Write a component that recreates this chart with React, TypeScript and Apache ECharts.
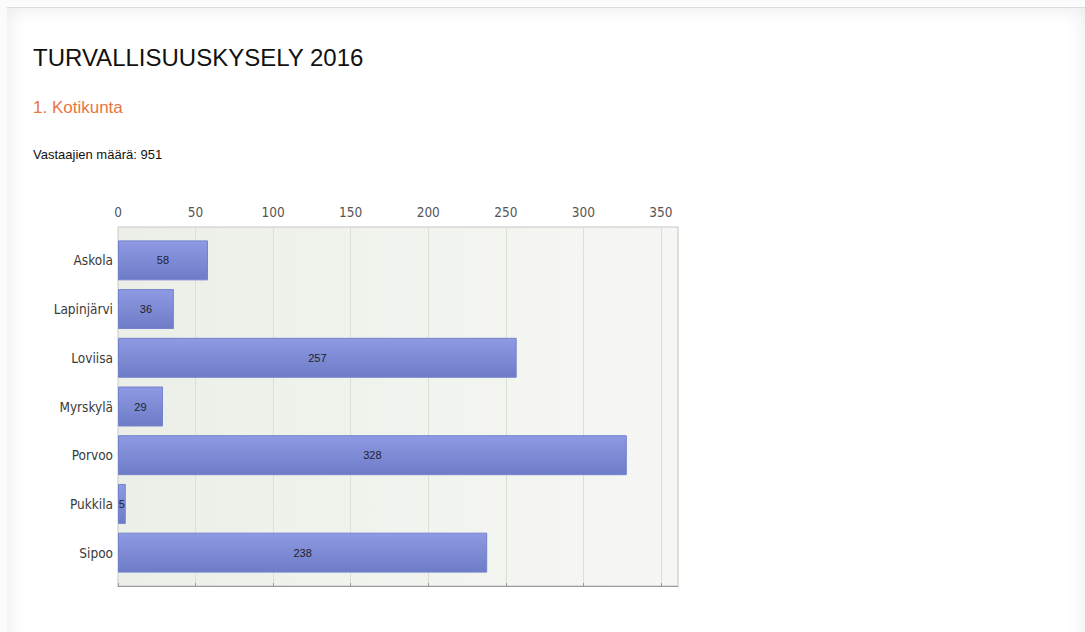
import React, { useEffect, useRef } from "react";
import * as echarts from "echarts";

const categories = ["Askola", "Lapinjärvi", "Loviisa", "Myrskylä", "Porvoo", "Pukkila", "Sipoo"];
const values = [58, 36, 257, 29, 328, 5, 238];
const axisMax = 361;
const tickInterval = 50;

const narrow = "'Liberation Sans Narrow', 'Arial Narrow', 'DejaVu Sans Condensed', sans-serif";
const sans = "'Liberation Sans', Arial, sans-serif";

export default function App() {
  const ref = useRef<HTMLDivElement>(null);
  useEffect(() => {
    if (!ref.current) return;
    const chart = echarts.init(ref.current, undefined, { renderer: "svg" });
    chart.setOption({
      animation: false,
      title: [
        {
          text: "TURVALLISUUSKYSELY 2016",
          left: 28,
          top: 40,
          textStyle: { fontFamily: sans, fontSize: 24, fontWeight: "normal", color: "#111" },
        },
        {
          text: "1. Kotikunta",
          left: 28,
          top: 94,
          textStyle: { fontFamily: sans, fontSize: 17, fontWeight: "normal", color: "#e8753f" },
        },
        {
          text: "Vastaajien määrä: 951",
          left: 28,
          top: 143,
          textStyle: { fontFamily: sans, fontSize: 13, fontWeight: "normal", color: "#111" },
        },
      ],
      grid: [
        {
          left: 118,
          top: 227,
          width: 560,
          height: 359,
          show: true,
          backgroundColor: {
            type: "linear",
            x: 0,
            y: 0,
            x2: 1,
            y2: 0,
            colorStops: [
              { offset: 0, color: "#ecefe8" },
              { offset: 1, color: "#f6f7f4" },
            ],
          },
          borderColor: "#c6c6c6",
          borderWidth: 1,
        },
        { left: 118, top: 236, width: 560, height: 341 },
      ],
      xAxis: [
        {
          type: "value",
          gridIndex: 0,
          position: "top",
          min: 0,
          max: axisMax,
          interval: tickInterval,
          axisLine: { show: true, lineStyle: { color: "#9a9a9a" } },
          axisTick: { show: true, length: 3, lineStyle: { color: "#9a9a9a" } },
          axisLabel: {
            showMaxLabel: false,
            margin: 8,
            fontFamily: narrow,
            fontSize: 13.5,
            color: "#555",
          },
          splitLine: { show: true, lineStyle: { color: "#dcdfd8" } },
        },
        {
          type: "value",
          gridIndex: 1,
          min: 0,
          max: axisMax,
          interval: tickInterval,
          show: false,
        },
      ],
      yAxis: [
        { type: "value", gridIndex: 0, show: false },
        {
          type: "category",
          gridIndex: 1,
          data: categories,
          inverse: true,
          axisLine: { show: false },
          axisTick: { show: false },
          splitLine: { show: false },
          axisLabel: { margin: 5, fontFamily: narrow, fontSize: 13.5, color: "#3a3a3a" },
        },
      ],
      series: [
        {
          type: "bar",
          xAxisIndex: 1,
          yAxisIndex: 1,
          data: values,
          barCategoryGap: "18%",
          itemStyle: {
            color: {
              type: "linear",
              x: 0,
              y: 0,
              x2: 0,
              y2: 1,
              colorStops: [
                { offset: 0, color: "#8e9ae3" },
                { offset: 1, color: "#6e7bc6" },
              ],
            },
            borderColor: "#7482cc",
            borderWidth: 1,
          },
          label: {
            show: true,
            position: "inside",
            fontFamily: sans,
            fontSize: 11,
            color: "#1e1e2e",
          },
        },
      ],
    });
    return () => chart.dispose();
  }, []);

  return (
    <div style={{ position: "fixed", left: 0, top: 0, width: 1085, height: 632, background: "#fbfbfb", overflow: "hidden" }}>
      <div
        style={{
          position: "absolute",
          left: 7,
          top: 7,
          width: 1078,
          height: 700,
          background: "#ffffff",
          borderTop: "1px solid #dcdcdc",
          boxShadow: "inset 0 0 20px rgba(0,0,0,0.09)",
        }}
      />
      <div ref={ref} style={{ position: "absolute", left: 0, top: 0, width: 1085, height: 632 }} />
    </div>
  );
}
